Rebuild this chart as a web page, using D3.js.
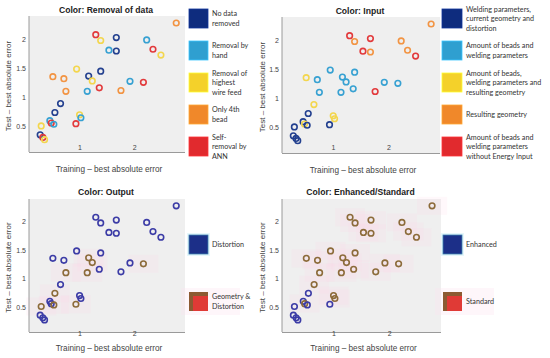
<!DOCTYPE html>
<html><head><meta charset="utf-8">
<script src="https://cdn.jsdelivr.net/npm/d3@7"></script>
<style>body{margin:0;background:#fff}svg{display:block}</style>
</head><body><svg id="c" width="550" height="358"></svg>
<script>
// ---- data ----
const trainErr=[2.76,1.29,1.38,1.665,2.22,1.53,1.665,2.335,2.48,0.94,1.38,1.16,0.506,0.707,1.226,1.915,2.16,0.744,1.134,1.354,1.75,0.646,0.543,0.994,1.018,0.927,0.451,0.476,0.524,0.293,0.274,0.323,0.354];
const testErr=[2.28,2.08,1.98,2.03,1.99,1.815,1.80,1.83,1.73,1.49,1.455,1.37,1.36,1.326,1.287,1.28,1.264,1.11,1.11,1.169,1.124,0.90,0.747,0.708,0.657,0.556,0.607,0.567,0.545,0.517,0.365,0.32,0.281];
const removalCat=[3,4,2,0,1,1,0,4,2,2,0,0,3,3,2,1,4,3,1,4,3,0,0,2,1,4,1,4,1,2,0,4,2];
const inputCat=[3,4,3,4,3,4,3,3,4,1,1,1,2,1,1,1,1,1,1,1,4,2,0,2,2,0,0,2,0,0,0,0,0];
const outputCat=[0,0,0,0,0,0,0,0,0,0,0,1,0,0,1,0,1,1,1,0,0,0,1,0,0,1,0,0,1,1,0,0,0];
const enhancedCat=[1,1,1,1,1,1,1,1,1,1,1,1,1,1,1,1,1,1,1,1,1,1,0,1,1,0,0,1,0,0,0,0,0];
const removalLabels=[["No data","removed"],["Removal by","hand"],["Removal of","highest","wire feed"],["Only 4th","bead"],["Self-","removal by","ANN"]];
const inputLabels=[["Welding parameters,","current geometry and","distortion"],["Amount of beads and","welding parameters"],["Amount of beads,","welding parameters and","resulting geometry"],["Resulting geometry"],["Amount of beads and","welding parameters","without Energy Input"]];
const outputLabels=[["Distortion"],["Geometry &","Distortion"]];
const enhancedLabels=[["Enhanced"],["Standard"]];
const titles=["Color: Removal of data","Color: Input","Color: Output","Color: Enhanced/Standard"];
const xTicks=[1,2];
const yTicks=[0.5,1,1.5,2];
const xLabel="Training \u2013 best absolute error";
const yLabel="Test \u2013 best absolute error";

// ---- styles ----
const ring5=["#23408f","#37a1d2","#f3d64e","#f29443","#e23a3c"];
const swatch5=["#0e2c7e","#2f9fd0","#f4d12a","#f0882a","#e12a2e"];
const ring2=["#3c3ca6","#8c6b3a"];

const svg=d3.select("#c");
const panels=[
 {x0:29,x1:185,y0:16,y1:152,cat:removalCat,ring:ring5,labels:removalLabels,title:titles[0],sx:189,sw:19,tx:212,sy:[9,41,73,105,137],tickY:150,ylx:11,two:false},
 {x0:282,x1:440,y0:17,y1:153,cat:inputCat,ring:ring5,labels:inputLabels,title:titles[1],sx:442,sw:20,tx:466,sy:[9,41,73,105,137],tickY:150,ylx:265,two:false},
 {x0:29,x1:185,y0:199,y1:332,cat:outputCat,ring:ring2,labels:outputLabels,title:titles[2],sx:189,sw:19,tx:212,sy:[235,292],tickY:336,ylx:11,two:true},
 {x0:282,x1:441,y0:199,y1:332,cat:enhancedCat,ring:ring2,labels:enhancedLabels,title:titles[3],sx:443,sw:19,tx:466,sy:[235,292],tickY:336,ylx:265,two:true}
];
const font="'Liberation Sans', Arial, sans-serif";
const lfont="Lato, 'Open Sans', sans-serif";

panels.forEach(p=>{
  const x=d3.scaleLinear().domain([0.07,2.92]).range([p.x0,p.x1]);
  const y=d3.scaleLinear().domain([0.07,2.40]).range([p.y1,p.y0]);
  const g=svg.append("g");
  g.append("rect").attr("x",p.x0).attr("y",p.y0).attr("width",p.x1-p.x0).attr("height",p.y1-p.y0).attr("fill","#efefef");
  // faint halos
  if(p.two){
    g.selectAll("rect.h").data(d3.range(trainErr.length).filter(i=>p.cat[i]===1)).join("rect")
     .attr("x",i=>x(trainErr[i])-15).attr("y",i=>y(testErr[i])-9).attr("width",30).attr("height",18)
     .attr("fill","#ffd6e6").attr("opacity",0.16);
  }
  // axes lines
  g.append("line").attr("x1",p.x0).attr("x2",p.x0).attr("y1",p.y0).attr("y2",p.y1).attr("stroke","#9a9a9a").attr("stroke-width",1);
  g.append("line").attr("x1",p.x0).attr("x2",p.x1).attr("y1",p.y1+0.5).attr("y2",p.y1+0.5).attr("stroke","#9a9a9a").attr("stroke-width",1);
  // ticks
  g.selectAll("text.xt").data(xTicks).join("text").attr("x",d=>x(d)).attr("y",p.tickY).attr("text-anchor","middle")
   .attr("font-family",font).attr("font-size",7).attr("fill","#444").text(d=>d);
  g.selectAll("text.yt").data(yTicks).join("text").attr("x",p.x0-3).attr("y",d=>y(d)+2.5).attr("text-anchor","end")
   .attr("font-family",font).attr("font-size",7).attr("fill","#444").text(d=>d);
  // labels
  g.append("text").attr("x",(p.x0+p.x1)/2+2).attr("y",p.y1+(p.two?19:20)).attr("text-anchor","middle")
   .attr("font-family",font).attr("font-size",8.2).attr("fill","#444").text(xLabel);
  g.append("text").attr("transform",`translate(${p.ylx},${(p.y0+p.y1)/2+2}) rotate(-90)`).attr("text-anchor","middle")
   .attr("font-family",font).attr("font-size",8).attr("fill","#444").text(yLabel);
  g.append("text").attr("x",(p.x0+p.x1)/2-1).attr("y",p.y0-(p.two?4:3)).attr("text-anchor","middle")
   .attr("font-family",font).attr("font-size",8.6).attr("font-weight","bold").attr("fill","#222").text(p.title);
  // points
  g.selectAll("circle").data(d3.range(trainErr.length)).join("circle")
   .attr("cx",i=>x(trainErr[i])).attr("cy",i=>y(testErr[i])).attr("r",2.8)
   .attr("fill","none").attr("stroke",i=>p.ring[p.cat[i]]).attr("stroke-width",1.6);
  // legend
  p.labels.forEach((lines,k)=>{
    const sy=p.sy[k];
    if(!p.two){
      g.append("rect").attr("x",p.sx).attr("y",sy).attr("width",p.sw).attr("height",19).attr("fill",swatch5[k]).attr("stroke",d3.color(swatch5[k]).brighter(0.6)).attr("stroke-width",0.8);
    } else if(k===0){
      g.append("rect").attr("x",p.sx-2).attr("y",sy-2).attr("width",p.sw+4).attr("height",23).attr("fill","#e6f7fb");
      g.append("rect").attr("x",p.sx).attr("y",sy).attr("width",p.sw).attr("height",19).attr("fill","#1c2f88").attr("stroke","#3a7fb0").attr("stroke-width",0.8);
    } else {
      g.append("rect").attr("x",p.sx-8).attr("y",sy-4).attr("width",p.sw+40).attr("height",27).attr("fill","#fde6f0").attr("opacity",0.35);
      g.append("rect").attr("x",p.sx).attr("y",sy).attr("width",p.sw).attr("height",19).attr("fill","#8c5a32");
      g.append("rect").attr("x",p.sx+4).attr("y",sy+4).attr("width",p.sw-4).attr("height",15).attr("fill","#e03a36");
    }
    const lh=9.5;
    const n=lines.length;
    const top=sy+9.5-(n-1)*lh/2+2.5;
    lines.forEach((t,j)=>{
      g.append("text").attr("x",p.tx).attr("y",top+j*lh).attr("font-family",lfont).attr("font-size",7.2).attr("fill","#333").text(t);
    });
  });
});
</script></body></html>
